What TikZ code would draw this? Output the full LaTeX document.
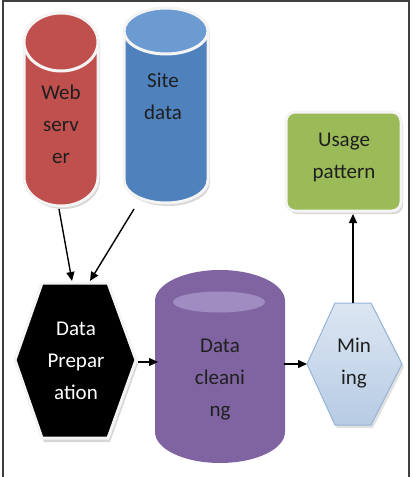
\documentclass[tikz,border=0pt]{standalone}
\usepackage{fontspec}
\setmainfont{Carlito}
\usetikzlibrary{arrows.meta}
\definecolor{webred}{HTML}{C0504D}
\definecolor{siteblue}{HTML}{4F81BD}
\definecolor{sitetop}{HTML}{6C9BD2}
\definecolor{purp}{HTML}{8064A2}
\definecolor{purptop}{HTML}{A08CC0}
\definecolor{usegreen}{HTML}{9BBB59}
\definecolor{minfillA}{HTML}{DCE6F2}
\definecolor{minfillB}{HTML}{B7CBE4}
\definecolor{minedge}{HTML}{95B3D7}
\definecolor{framegray}{HTML}{3F3F3F}
\definecolor{rim}{HTML}{F4F4F4}
\begin{document}
\begin{tikzpicture}[x=1pt,y=-1pt,
  lbl/.style={align=center,font=\fontsize{21}{32}\selectfont,text=black!88,inner sep=0pt},
  conn/.style={-{Triangle[length=9pt,width=8pt]},line width=1.4pt,black},
  shade/.style={fill=black!16},
  whiteln/.style={draw=rim,line width=3pt}]
\useasboundingbox (0,0) rectangle (413,477);
\draw[framegray,line width=2pt] (3,477) -- (3,1) -- (409,1) -- (409,477);

% Web server cylinder (red)
\path[shade] (26,45) -- (26,180) arc[start angle=180,end angle=0,x radius=37,y radius=29] -- (100,45) arc[start angle=0,end angle=-180,x radius=37,y radius=29] -- cycle;
\draw[whiteln,fill=webred] (24,42) -- (24,177) arc[start angle=180,end angle=0,x radius=37,y radius=29] -- (98,42) arc[start angle=0,end angle=-180,x radius=37,y radius=29] -- cycle;
\draw[whiteln,fill=webred] (61,42) ellipse[x radius=37,y radius=29];

% Site data cylinder (blue)
\path[shade] (126,34) -- (126,183) arc[start angle=180,end angle=0,x radius=42,y radius=23] -- (210,34) arc[start angle=0,end angle=-180,x radius=42,y radius=23] -- cycle;
\draw[whiteln,fill=siteblue] (124,31) -- (124,180) arc[start angle=180,end angle=0,x radius=42,y radius=23] -- (208,31) arc[start angle=0,end angle=-180,x radius=42,y radius=23] -- cycle;
\draw[whiteln,fill=sitetop] (166,31) ellipse[x radius=42,y radius=23];

% Usage pattern box
\path[shade,rounded corners=9pt] (288,115) rectangle (403,214);
\draw[whiteln,fill=usegreen,rounded corners=9pt] (286,112) rectangle (401,211);

% Data Preparation hexagon (black)
\path[shade] (44,287) -- (110,287) -- (138,364) -- (110,442) -- (44,442) -- (17,364) -- cycle;
\draw[whiteln,fill=black] (42,283) -- (108,283) -- (136,360) -- (108,438) -- (42,438) -- (15,360) -- cycle;

% Data cleaning cylinder (purple)
\fill[purp] (155,301) -- (155,432) arc[start angle=180,end angle=0,x radius=65,y radius=31] -- (285,301) arc[start angle=0,end angle=-180,x radius=65,y radius=31] -- cycle;
\fill[purptop] (219,302) ellipse[x radius=46,y radius=10.5];

% Mining hexagon
\path[fill=black!12] (337,306) -- (373,306) -- (404,367) -- (373,428) -- (337,428) -- (309,367) -- cycle;
\draw[minedge,line width=1pt,top color=minfillA,bottom color=minfillB] (335,303) -- (371,303) -- (402,364) -- (371,425) -- (335,425) -- (307,364) -- cycle;

% Labels
\node[lbl] (web) at (61,124) {Web\\serv\\er};
\node[lbl] (site) at (163,96) {Site\\data};
\node[lbl] (usage) at (344,157) {Usage\\pattern};
\node[lbl,text=white] (prep) at (76,361) {Data\\Prepar\\ation};
\node[lbl] (clean) at (220,380) {Data\\cleani\\ng};
\node[lbl] (mining) at (354,363) {Min\\ing};

% Connector end points
\coordinate (webB) at (59,209);
\coordinate (siteB) at (134,209);
\coordinate (prepT1) at (72,281);
\coordinate (prepT2) at (90,281);
\coordinate (prepR) at (138,362);
\coordinate (cleanL) at (158,362);
\coordinate (cleanR) at (284,364);
\coordinate (minL) at (307,364);
\coordinate (minT) at (353,303);
\coordinate (useB) at (353,214);

\draw[conn] (webB) -- (prepT1);
\draw[conn] (siteB) -- (prepT2);
\draw[conn] (prepR) -- (cleanL);
\draw[conn] (cleanR) -- (minL);
\draw[conn] (minT) -- (useB);
\end{tikzpicture}
\end{document}
